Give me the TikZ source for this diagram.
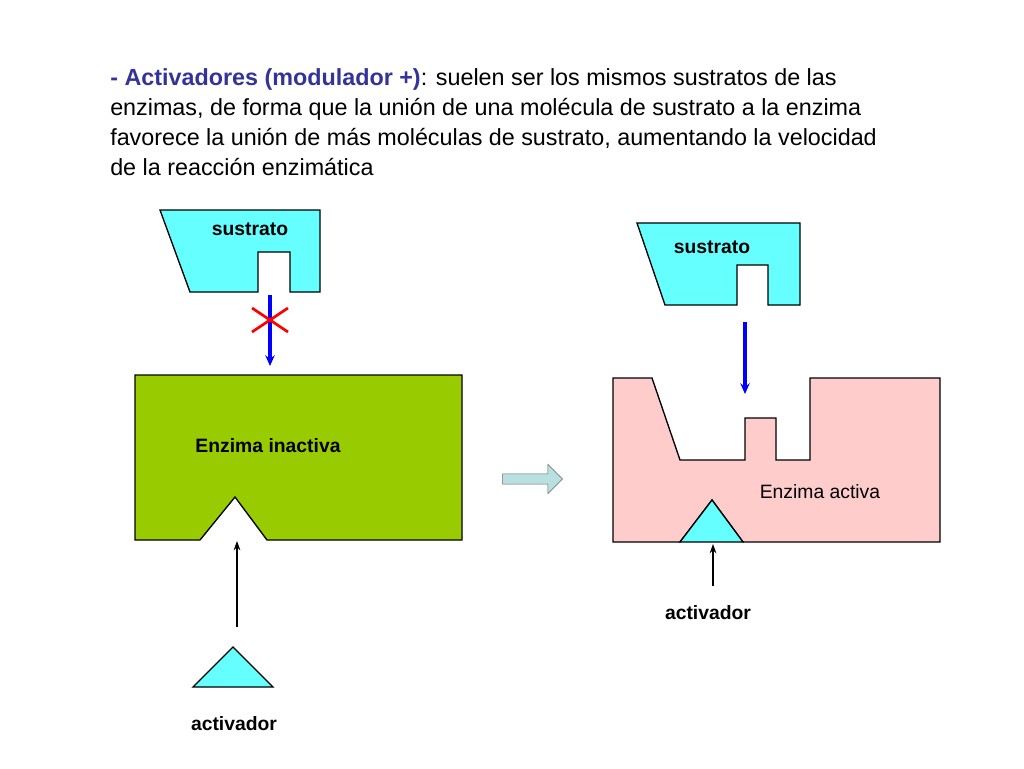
\documentclass[tikz,border=0pt]{standalone}
\usepackage{fontspec}
\setmainfont{Liberation Sans}
\usetikzlibrary{shapes.arrows,arrows.meta}
\definecolor{cyanfill}{HTML}{66FFFF}
\definecolor{greenfill}{HTML}{99CC00}
\definecolor{pinkfill}{HTML}{FFCCCC}
\definecolor{titleblue}{HTML}{333399}
\definecolor{arrowfill}{HTML}{B8E0E0}
\tikzset{
    shape line/.style={draw=black,line width=1pt},
    label text/.style={font=\bfseries\fontsize{14.5}{16}\selectfont},
    blue arrow/.style={draw=blue,line width=3pt,-{Stealth[length=8pt,width=7pt]}},
    thin arrow/.style={draw=black,line width=1pt,-{Stealth[length=7pt,width=5pt]}}
    }
\begin{document}
\begin{tikzpicture}[x=0.75pt,y=-0.75pt]
    \useasboundingbox (0,0) rectangle (1024,768);
    % header
    \node(title)[anchor=north west,align=left,font=\fontsize{17.5}{22.6}\selectfont,inner sep=0] at (110,68)
        {\textcolor{titleblue}{\textbf{- Activadores (modulador +)}}: suelen ser los mismos sustratos de las\\
         enzimas, de forma que la unión de una molécula de sustrato a la enzima\\
         favorece la unión de más moléculas de sustrato, aumentando la velocidad\\
         de la reacción enzimática};
    % left side
    \draw[shape line,fill=cyanfill] (160,210) -- (320,210) -- (320,292) -- (290,292) -- (290,252) -- (258,252) -- (258,292) -- (190,292) -- cycle;
    \node(sus1)[label text] at (250,229) {sustrato};
    \coordinate(s1) at (270,295);
    \coordinate(e1) at (270,366);
    \draw[blue arrow] (s1) -- (e1);
    \draw[red,line width=2pt] (252,308) -- (288,332) (252,332) -- (288,308);
    \draw[shape line,fill=greenfill] (135,375) -- (462,375) -- (462,540) -- (267,540) -- (235,497) -- (200,540) -- (135,540) -- cycle;
    \node(enz1)[label text] at (268,446) {Enzima inactiva};
    \draw[shape line,fill=cyanfill] (193,687) -- (273,687) -- (233,647) -- cycle;
    \coordinate(a1) at (237,627);
    \coordinate(b1) at (237,541);
    \draw[thin arrow] (a1) -- (b1);
    \node(act1)[label text] at (234,724) {activador};
    % transition arrow
    \node(trans)[single arrow,draw=black!60,fill=arrowfill,minimum height=45pt,minimum width=22pt,single arrow head extend=4pt,inner sep=2pt] at (530,479) {};
    % right side
    \draw[shape line,fill=cyanfill] (637,223) -- (800,223) -- (800,305) -- (768,305) -- (768,265) -- (737,265) -- (737,305) -- (665,305) -- cycle;
    \node(sus2)[label text] at (712,247) {sustrato};
    \coordinate(s2) at (745,322);
    \coordinate(e2) at (745,394);
    \draw[blue arrow] (s2) -- (e2);
    \draw[shape line,fill=pinkfill] (613,378) -- (652,378) -- (680,460) -- (745,460) -- (745,418) -- (776,418) -- (776,460) -- (810,460) -- (810,378) -- (940,378) -- (940,542) -- (743,542) -- (712,500) -- (680,542) -- (613,542) -- cycle;
    \draw[shape line,fill=cyanfill] (680,542) -- (743,542) -- (712,500) -- cycle;
    \node(enz2)[font=\fontsize{14.5}{16}\selectfont] at (820,492) {Enzima activa};
    \coordinate(a2) at (713,586);
    \coordinate(b2) at (713,544);
    \draw[thin arrow] (a2) -- (b2);
    \node(act2)[label text] at (708,613) {activador};
\end{tikzpicture}
\end{document}
